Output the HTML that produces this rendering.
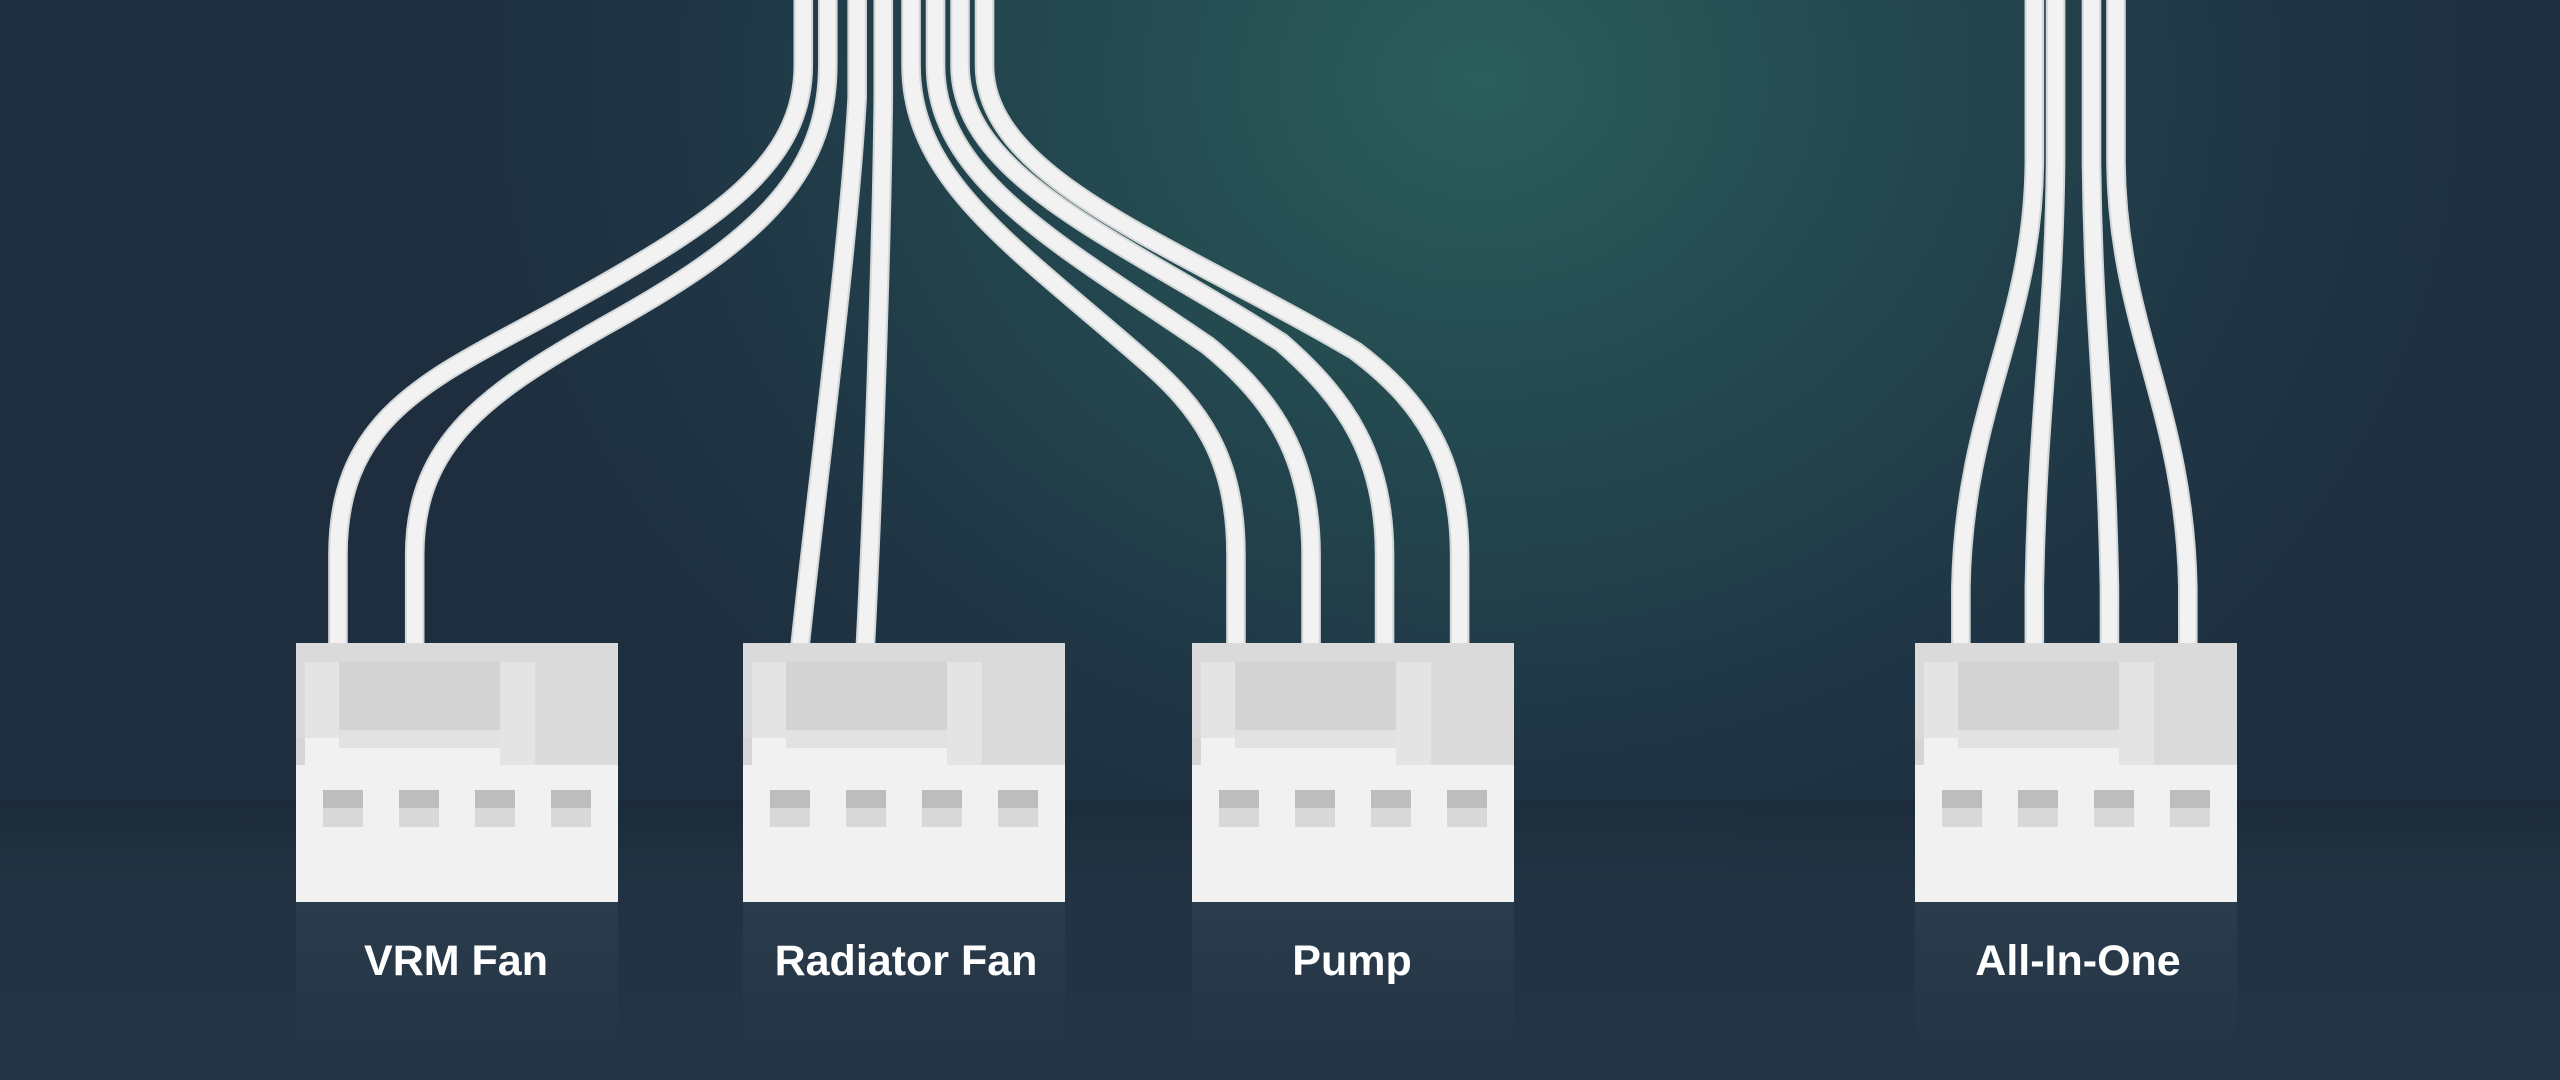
<!DOCTYPE html>
<html><head><meta charset="utf-8"><style>
html,body{margin:0;padding:0;width:2560px;height:1080px;overflow:hidden;background:#1f2f3f}
svg{display:block}
</style></head><body>
<svg width="2560" height="1080" viewBox="0 0 2560 1080" xmlns="http://www.w3.org/2000/svg">
<defs>
<radialGradient id="glow" cx="1480" cy="80" r="1100" gradientUnits="userSpaceOnUse" gradientTransform="translate(1480 80) scale(1 0.85) translate(-1480 -80)">
<stop offset="0" stop-color="#2b5e5c"/>
<stop offset="0.35" stop-color="#244a50"/>
<stop offset="0.75" stop-color="#1f3444"/>
<stop offset="1" stop-color="#1e2e3e"/>
</radialGradient>
<linearGradient id="floor" x1="0" y1="0" x2="0" y2="1">
<stop offset="0" stop-color="#1a2836" stop-opacity="0.6"/>
<stop offset="0.3" stop-color="#253646" stop-opacity="0.5"/>
<stop offset="1" stop-color="#26384a" stop-opacity="0.7"/>
</linearGradient>
<linearGradient id="refl" x1="0" y1="0" x2="0" y2="1">
<stop offset="0" stop-color="#3a4c5c" stop-opacity="0.35"/>
<stop offset="1" stop-color="#3a4c5c" stop-opacity="0"/>
</linearGradient>
<g id="conn">
<rect x="0" y="0" width="322" height="259" fill="#f1f1f1"/>
<rect x="0" y="0" width="322" height="122" fill="#dadada"/>
<rect x="9" y="19" width="34" height="76" fill="#e4e4e4"/>
<rect x="204" y="19" width="35" height="103" fill="#e4e4e4"/>
<rect x="43" y="19" width="161" height="68" fill="#d3d3d3"/>
<rect x="43" y="87" width="161" height="18" fill="#e2e2e2"/>
<rect x="9" y="95" width="34" height="27" fill="#f1f1f1"/>
<rect x="43" y="105" width="161" height="17" fill="#f1f1f1"/>
<rect x="0" y="122" width="322" height="137" fill="#f1f1f1"/>
<rect x="0" y="95" width="9" height="27" fill="#d6d6d6"/>
<g fill="#bdbdbd">
<rect x="27" y="147" width="40" height="37"/><rect x="103" y="147" width="40" height="37"/>
<rect x="179" y="147" width="40" height="37"/><rect x="255" y="147" width="40" height="37"/>
</g>
<g fill="#d8d8d8">
<rect x="27" y="165" width="40" height="19"/><rect x="103" y="165" width="40" height="19"/>
<rect x="179" y="165" width="40" height="19"/><rect x="255" y="165" width="40" height="19"/>
</g>
</g>
<g id="wires">
<path d="M207,396 L207,340 C207,250 270,230 350,185 C440,135 492,100 492,40 L492,0"/>
<path d="M254,396 L254,340 C254,270 300,240 370,200 C460,150 507,110 507,40 L507,0"/>
<path d="M490,396 C500,300 520,150 525,60 L525,0"/>
<path d="M530,396 C535,300 540,150 541,60 L541,0"/>
<path d="M757,396 L757,340 C757,280 735,250 700,220 C620,150 558,110 558,40 L558,0"/>
<path d="M803,396 L803,340 C803,280 780,245 740,212 C650,150 573,110 573,40 L573,0"/>
<path d="M848,396 L848,340 C848,280 825,245 785,210 C690,148 588,110 588,40 L588,0"/>
<path d="M894,396 L894,340 C894,280 870,245 830,215 C720,150 603,110 603,40 L603,0"/>
<path d="M1201,396 L1201,360 C1203,250 1245,200 1246,100 L1246,0"/>
<path d="M1246,396 L1246,360 C1248,250 1258,200 1259,100 L1259,0"/>
<path d="M1292,396 L1292,360 C1290,250 1282,200 1281,100 L1281,0"/>
<path d="M1340,396 L1340,360 C1338,250 1297,200 1296,100 L1296,0"/>
</g>
</defs>
<rect width="2560" height="1080" fill="url(#glow)"/>
<rect x="0" y="800" width="2560" height="280" fill="url(#floor)"/>
<g fill="url(#refl)">
<rect x="296" y="902" width="322" height="160"/>
<rect x="743" y="902" width="322" height="160"/>
<rect x="1192" y="902" width="322" height="160"/>
<rect x="1915" y="902" width="322" height="160"/>
</g>
<g transform="scale(1.6327 1.6314)" fill="none">
<use href="#wires" stroke="#d4d7d8" stroke-width="12"/>
<use href="#wires" stroke="#f2f2f2" stroke-width="9.5"/>
</g>
<use href="#conn" x="296" y="643"/>
<use href="#conn" x="743" y="643"/>
<use href="#conn" x="1192" y="643"/>
<use href="#conn" x="1915" y="643"/>
<g font-family="Liberation Sans, sans-serif" font-weight="bold" font-size="43" fill="#ffffff" text-anchor="middle">
<text x="456" y="975">VRM Fan</text>
<text x="906" y="975">Radiator Fan</text>
<text x="1352" y="975">Pump</text>
<text x="2078" y="975">All-In-One</text>
</g>
</svg>
</body></html>
